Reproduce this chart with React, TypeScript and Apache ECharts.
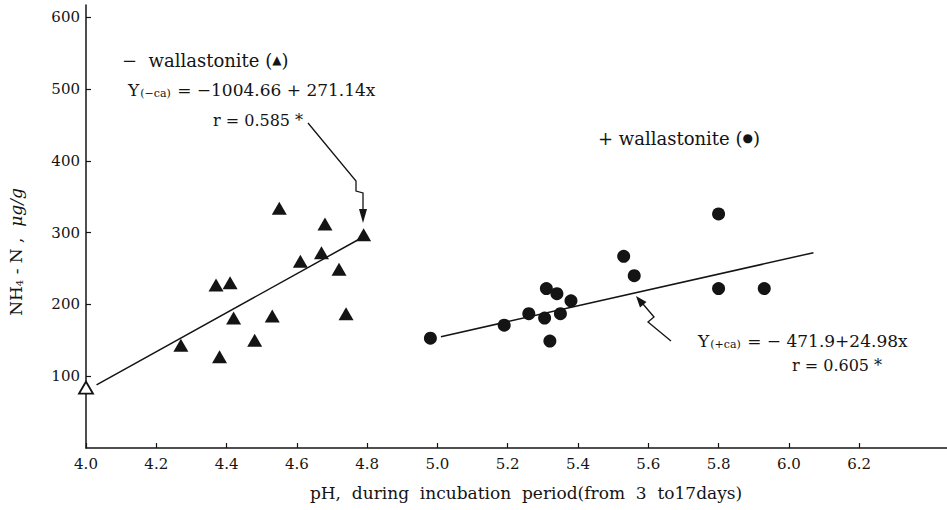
import React, { useEffect, useRef } from 'react';
import * as echarts from 'echarts';

// Axis ticks
const xTicks = [4.0, 4.2, 4.4, 4.6, 4.8, 5.0, 5.2, 5.4, 5.6, 5.8, 6.0, 6.2];
const yTicks = [100, 200, 300, 400, 500, 600];

// − wallastonite (triangles)
const minusCaPH = [4.27, 4.37, 4.41, 4.38, 4.42, 4.48, 4.53, 4.61, 4.67, 4.72, 4.74, 4.55, 4.68, 4.79];
const minusCaNH4 = [143, 227, 230, 127, 181, 150, 184, 260, 272, 249, 187, 334, 312, 297];

// initial value (open triangle)
const initialPH = [4.0];
const initialNH4 = [84];

// + wallastonite (circles)
const plusCaPH = [4.98, 5.19, 5.26, 5.31, 5.305, 5.32, 5.34, 5.35, 5.38, 5.53, 5.56, 5.8, 5.8, 5.93];
const plusCaNH4 = [153, 171, 187, 222, 181, 149, 215, 187, 205, 267, 240, 326, 222, 222];

// regression lines (end points)
const minusCaFitPH = [4.03, 4.8];
const minusCaFitNH4 = [88, 297];
const plusCaFitPH = [5.01, 6.07];
const plusCaFitNH4 = [155, 272];

const SERIF = "'DejaVu Serif', serif";
const SYM = "'DejaVu Sans', sans-serif";
const INK = '#141414';

const pairs = (xs: number[], ys: number[]) => xs.map((x, i) => [x, ys[i]]);

export default function App() {
  const ref = useRef<HTMLDivElement>(null);

  useEffect(() => {
    if (!ref.current) return;
    const chart = echarts.init(ref.current, undefined, { renderer: 'svg' });

    const txt = (x: number, y: number, text: string, extra: any = {}) => ({
      type: 'text',
      x,
      y,
      silent: true,
      style: {
        text,
        fontFamily: SERIF,
        fontSize: 17,
        fill: INK,
        align: 'left',
        verticalAlign: 'middle',
        ...extra,
      },
    });

    const rich = {
      m: { fontFamily: SERIF, fontSize: 17, fill: INK },
      w: { fontFamily: SERIF, fontSize: 18, fill: INK },
      s: { fontFamily: SERIF, fontSize: 11, fill: INK, padding: [7, 1, 0, 1] },
      k: { fontFamily: SYM, fontSize: 12, fill: INK },
    };

    chart.setOption({
      animation: false,
      backgroundColor: '#ffffff',
      textStyle: { fontFamily: SERIF },
      grid: { left: 86, right: 0, top: 5, bottom: 62, outerBoundsMode: 'none' },
      xAxis: {
        type: 'value',
        min: 4.0,
        max: 6.45,
        splitLine: { show: false },
        axisLine: { show: true, onZero: false, lineStyle: { color: INK, width: 1.5 } },
        axisTick: {
          show: true,
          inside: true,
          length: 5,
          customValues: xTicks,
          lineStyle: { color: INK, width: 1.2 },
        },
        axisLabel: {
          customValues: xTicks,
          formatter: (v: number) => v.toFixed(1),
          fontFamily: SERIF,
          fontSize: 15,
          color: INK,
          margin: 8,
        },
      },
      yAxis: {
        type: 'value',
        min: 0,
        max: 617,
        splitLine: { show: false },
        axisLine: { show: true, onZero: false, lineStyle: { color: INK, width: 1.5 } },
        axisTick: {
          show: true,
          inside: true,
          length: 5,
          customValues: yTicks,
          lineStyle: { color: INK, width: 1.2 },
        },
        axisLabel: {
          customValues: yTicks,
          fontFamily: SERIF,
          fontSize: 15,
          color: INK,
          margin: 6,
        },
      },
      series: [
        {
          type: 'line',
          data: pairs(minusCaFitPH, minusCaFitNH4),
          symbol: 'none',
          lineStyle: { color: INK, width: 1.5 },
          z: 2,
        },
        {
          type: 'line',
          data: pairs(plusCaFitPH, plusCaFitNH4),
          symbol: 'none',
          lineStyle: { color: INK, width: 1.5 },
          z: 2,
        },
        {
          type: 'scatter',
          data: pairs(minusCaPH, minusCaNH4),
          symbol: 'triangle',
          symbolSize: [15, 13],
          itemStyle: { color: INK, opacity: 1 },
          clip: false,
          z: 3,
        },
        {
          type: 'scatter',
          data: pairs(plusCaPH, plusCaNH4),
          symbol: 'circle',
          symbolSize: 13,
          itemStyle: { color: INK, opacity: 1 },
          clip: false,
          z: 3,
        },
        {
          type: 'scatter',
          data: pairs(initialPH, initialNH4),
          symbol: 'triangle',
          symbolSize: [14, 12],
          itemStyle: { color: '#ffffff', borderColor: INK, borderWidth: 1.8, opacity: 1 },
          clip: false,
          z: 4,
        },
      ],
      graphic: [
        // y axis title
        {
          type: 'text',
          x: 16,
          y: 252,
          rotation: Math.PI / 2,
          silent: true,
          style: {
            text: '{m|NH}{s|4}{m| - N ,  }{i|μg/g}',
            align: 'center',
            verticalAlign: 'middle',
            fill: INK,
            rich: {
              m: { fontFamily: SERIF, fontSize: 17, fill: INK },
              s: { fontFamily: SERIF, fontSize: 10, fill: INK, padding: [7, 0, 0, 0] },
              i: { fontFamily: SERIF, fontSize: 17, fontStyle: 'italic', fill: INK },
            },
          },
        },
        // x axis title
        txt(526, 493, 'pH,  during  incubation  period(from  3  to17days)', {
          align: 'center',
          fontSize: 17,
        }),
        // − wallastonite block
        txt(122, 60, '{w|−  wallastonite (}{k|▲}{w|)}', { rich }),
        txt(128, 90, '{m|Y}{s|(−ca)}{m| = −1004.66 + 271.14x}', { rich }),
        txt(213, 120, 'r = 0.585 *', { fontSize: 16 }),
        // + wallastonite block
        txt(598, 138, '{w|+ wallastonite (}{k|●}{w|)}', { rich }),
        txt(698, 341, '{m|Y}{s|(+ca)}{m| = − 471.9+24.98x}', { rich }),
        txt(792, 365, 'r = 0.605 *', { fontSize: 16 }),
        // arrow to − wallastonite line
        {
          type: 'polyline',
          silent: true,
          shape: { points: [[308, 123], [356, 181], [356, 191], [363, 193], [363, 211]] },
          style: { stroke: INK, lineWidth: 1.3, fill: 'none' },
        },
        {
          type: 'polygon',
          silent: true,
          shape: { points: [[359, 209], [367, 209], [363, 223]] },
          style: { fill: INK },
        },
        // arrow to + wallastonite line
        {
          type: 'polyline',
          silent: true,
          shape: { points: [[671, 341], [648, 322], [654, 317], [643, 304]] },
          style: { stroke: INK, lineWidth: 1.3, fill: 'none' },
        },
        {
          type: 'polygon',
          silent: true,
          shape: { points: [[636, 296], [646.5, 302], [640, 307.5]] },
          style: { fill: INK },
        },
      ],
    });

    return () => chart.dispose();
  }, []);

  return (
    <div
      ref={ref}
      style={{ position: 'fixed', left: 0, top: 0, width: 947, height: 510, background: '#fff' }}
    />
  );
}
